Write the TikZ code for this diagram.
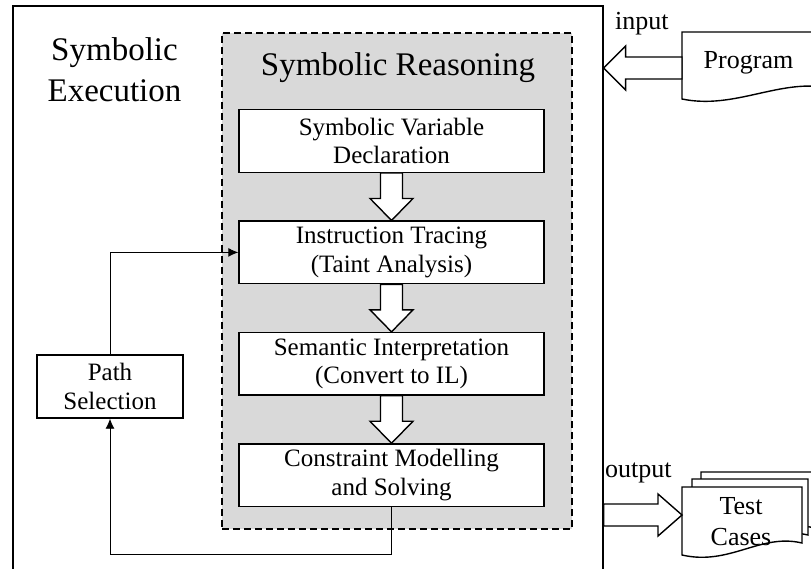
\documentclass[tikz,border=0pt]{standalone}
\usepackage{fontspec}
\setmainfont{Liberation Serif}
\usetikzlibrary{positioning,calc,arrows.meta}

\tikzset{
  stage/.style={draw, line width=1.4pt, fill=white, align=center,
    minimum width=305pt, minimum height=62.5pt, inner sep=0pt,
    font=\fontsize{25}{28.5}\selectfont},
  hollow/.style={draw, line width=1.4pt, fill=white, line join=miter},
  paper/.style={draw, line width=1.4pt, fill=white},
  link/.style={draw, line width=0.9pt, -{Latex[length=10pt,width=9pt]}},
  big/.style={font=\fontsize{33}{41}\selectfont, align=center},
  small/.style={font=\fontsize{26}{31}\selectfont, align=center, inner sep=0pt}
}

% fat downward arrow between two stacked nodes
\newcommand{\hollowdown}[2]{%
  \path[hollow] let \p1=(#1.south), \p2=(#2.north) in
    ({\x1-11pt},\y1) -- ({\x1+11pt},\y1) -- ({\x1+11pt},{\y2+22pt})
    -- ({\x1+21.5pt},{\y2+22pt}) -- (\x1,\y2) -- ({\x1-21.5pt},{\y2+22pt})
    -- ({\x1-11pt},{\y2+22pt}) -- cycle;}

\begin{document}
\begin{tikzpicture}[x=1pt, y=-1pt]
\useasboundingbox (0,0) rectangle (811,568);

% Outer frame
\node[draw, line width=1.6pt, minimum width=590pt, minimum height=575pt,
  anchor=north west, inner sep=0pt] (exec) at (12,5) {};
\node[big] (exectitle) at (114.5,69.5) {Symbolic\\Execution};

% Reasoning block
\node[draw, dash pattern=on 7pt off 4pt, line width=1.7pt, fill=gray!30,
  minimum width=350pt, minimum height=496pt, anchor=north west, inner sep=0pt]
  (reason) at (221,32) {};
\node[big, anchor=base] (reasontitle) at (398,75) {Symbolic Reasoning};

% Stages
\node[stage] (decl) at (391.5,141) {Symbolic Variable\\Declaration};
\node[stage, below=47.5pt of decl] (trace) {Instruction Tracing\\(Taint Analysis)};
\node[stage, below=47.5pt of trace] (interp) {Semantic Interpretation\\(Convert to IL)};
\node[stage, below=47.5pt of interp] (solve) {Constraint Modelling\\and Solving};

\hollowdown{decl}{trace}
\hollowdown{trace}{interp}
\hollowdown{interp}{solve}

% Path selection loop
\node[stage, minimum width=146pt, minimum height=63pt] (path) at (110,386.5) {Path\\Selection};
\draw[link] (path.north) |- (trace.west);
\draw[link] (solve.south) -- ++(0,47) -| (path.south);

% Program document
\path[paper] (682,32) -- (830,32) -- (830,88)
  .. controls (780,78) and (735,110) .. (682,99) -- cycle;
\node[small, anchor=base] (prog) at (748.5,68) {Program};
\coordinate (progin) at (682,68);
\node[small, anchor=base west] (inlabel) at (615,29) {input};

% input arrow
\path[hollow] let \p1=(progin), \p2=(exec.east |- progin) in
  (\x1,{\y1+11pt}) -- (\x1,{\y1-11pt}) -- ({\x2+22pt},{\y1-11pt})
  -- ({\x2+22pt},{\y1-22pt}) -- (\x2,\y1) -- ({\x2+22pt},{\y1+22pt})
  -- ({\x2+22pt},{\y1+11pt}) -- cycle;

% Test case documents
\foreach \dx/\dy/\w in {19/-15/114, 10/-8/116, 0/0/120}
  \path[paper] ({682+\dx},{487+\dy}) -- ({682+\dx+\w},{487+\dy})
    -- ({682+\dx+\w},{543+\dy})
    .. controls ({640+\dx+\w},{533+\dy}) and ({730+\dx},{566+\dy}) .. ({682+\dx},{555+\dy})
    -- cycle;
\node[small] (tests) at (741,522) {Test\\Cases};
\coordinate (testsin) at (682,515);
\node[small, anchor=base west] (outlabel) at (605,477) {output};

% output arrow
\path[hollow] let \p1=(exec.east |- testsin), \p2=(testsin) in
  (\x1,{\y1+11pt}) -- (\x1,{\y1-11pt}) -- ({\x2-24pt},{\y1-11pt})
  -- ({\x2-24pt},{\y1-21pt}) -- (\x2,\y1) -- ({\x2-24pt},{\y1+21pt})
  -- ({\x2-24pt},{\y1+11pt}) -- cycle;
\end{tikzpicture}
\end{document}
